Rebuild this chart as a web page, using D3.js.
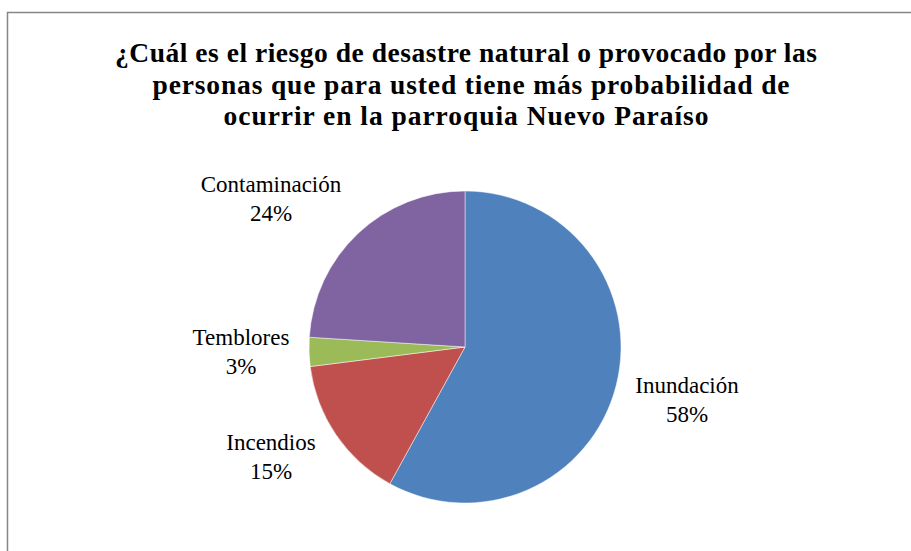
<!DOCTYPE html>
<html>
<head>
<meta charset="utf-8">
<script src="https://cdn.jsdelivr.net/npm/d3@7"></script>
<style>
  body { margin: 0; background: #fff; }
</style>
</head>
<body>
<script>
const width = 911;
const height = 551;
const font = "'Liberation Serif', 'Times New Roman', serif";

const titleLines = [
  "¿Cuál es el riesgo de desastre natural o provocado por las",
  "personas que para usted tiene más probabilidad de",
  "ocurrir en la parroquia Nuevo Paraíso"
];
// measured width of each title line in the reference
const titleWidths = [702, 637, 485];
const categories = ["Inundación", "Incendios", "Temblores", "Contaminación"];
const values = [58, 15, 3, 24];
const colors = ["#4f81bd", "#c0504d", "#9bbb59", "#8064a2"];
// label anchor (centre x, baseline of first line) next to each slice
const labelPos = [[687, 393], [271, 450], [241, 345], [271, 192]];

const svg = d3.select("body")
  .append("svg")
  .attr("width", width)
  .attr("height", height);

svg.append("rect")
  .attr("x", 7.5)
  .attr("y", 12.5)
  .attr("width", 1000)
  .attr("height", 1000)
  .attr("fill", "#fff")
  .attr("stroke", "#868686")
  .attr("stroke-width", 1.5);

const titleG = svg.append("g")
  .attr("font-family", font)
  .attr("text-anchor", "middle")
  .attr("font-weight", "bold")
  .attr("font-size", 27.5)
  .attr("fill", "#000");

titleG.selectAll("text")
  .data(titleLines)
  .join("text")
  .attr("x", (d, i) => i === 1 ? 471 : 466)
  .attr("y", (d, i) => 62 + i * 31.5)
  .attr("textLength", (d, i) => titleWidths[i])
  .attr("lengthAdjust", "spacing")
  .text(d => d);

const cx = 465, cy = 347, r = 156;

const pie = d3.pie().sort(null).value(d => d.value);
const arc = d3.arc().innerRadius(0).outerRadius(r);
const data = categories.map((c, i) => ({ name: c, value: values[i], color: colors[i] }));
const total = d3.sum(values);

const g = svg.append("g").attr("transform", `translate(${cx},${cy})`);

g.selectAll("path")
  .data(pie(data))
  .join("path")
  .attr("d", arc)
  .attr("fill", d => d.data.color)
  .attr("stroke", "#fff")
  .attr("stroke-opacity", 0.8)
  .attr("stroke-width", 0.6);

const labels = svg.append("g")
  .attr("font-family", font)
  .attr("font-size", 23)
  .attr("fill", "#000")
  .attr("text-anchor", "middle");

data.forEach((d, i) => {
  labels.append("text")
    .attr("x", labelPos[i][0])
    .attr("y", labelPos[i][1])
    .text(d.name);
  labels.append("text")
    .attr("x", labelPos[i][0])
    .attr("y", labelPos[i][1] + 29)
    .text(d3.format(".0%")(d.value / total));
});
</script>
</body>
</html>
